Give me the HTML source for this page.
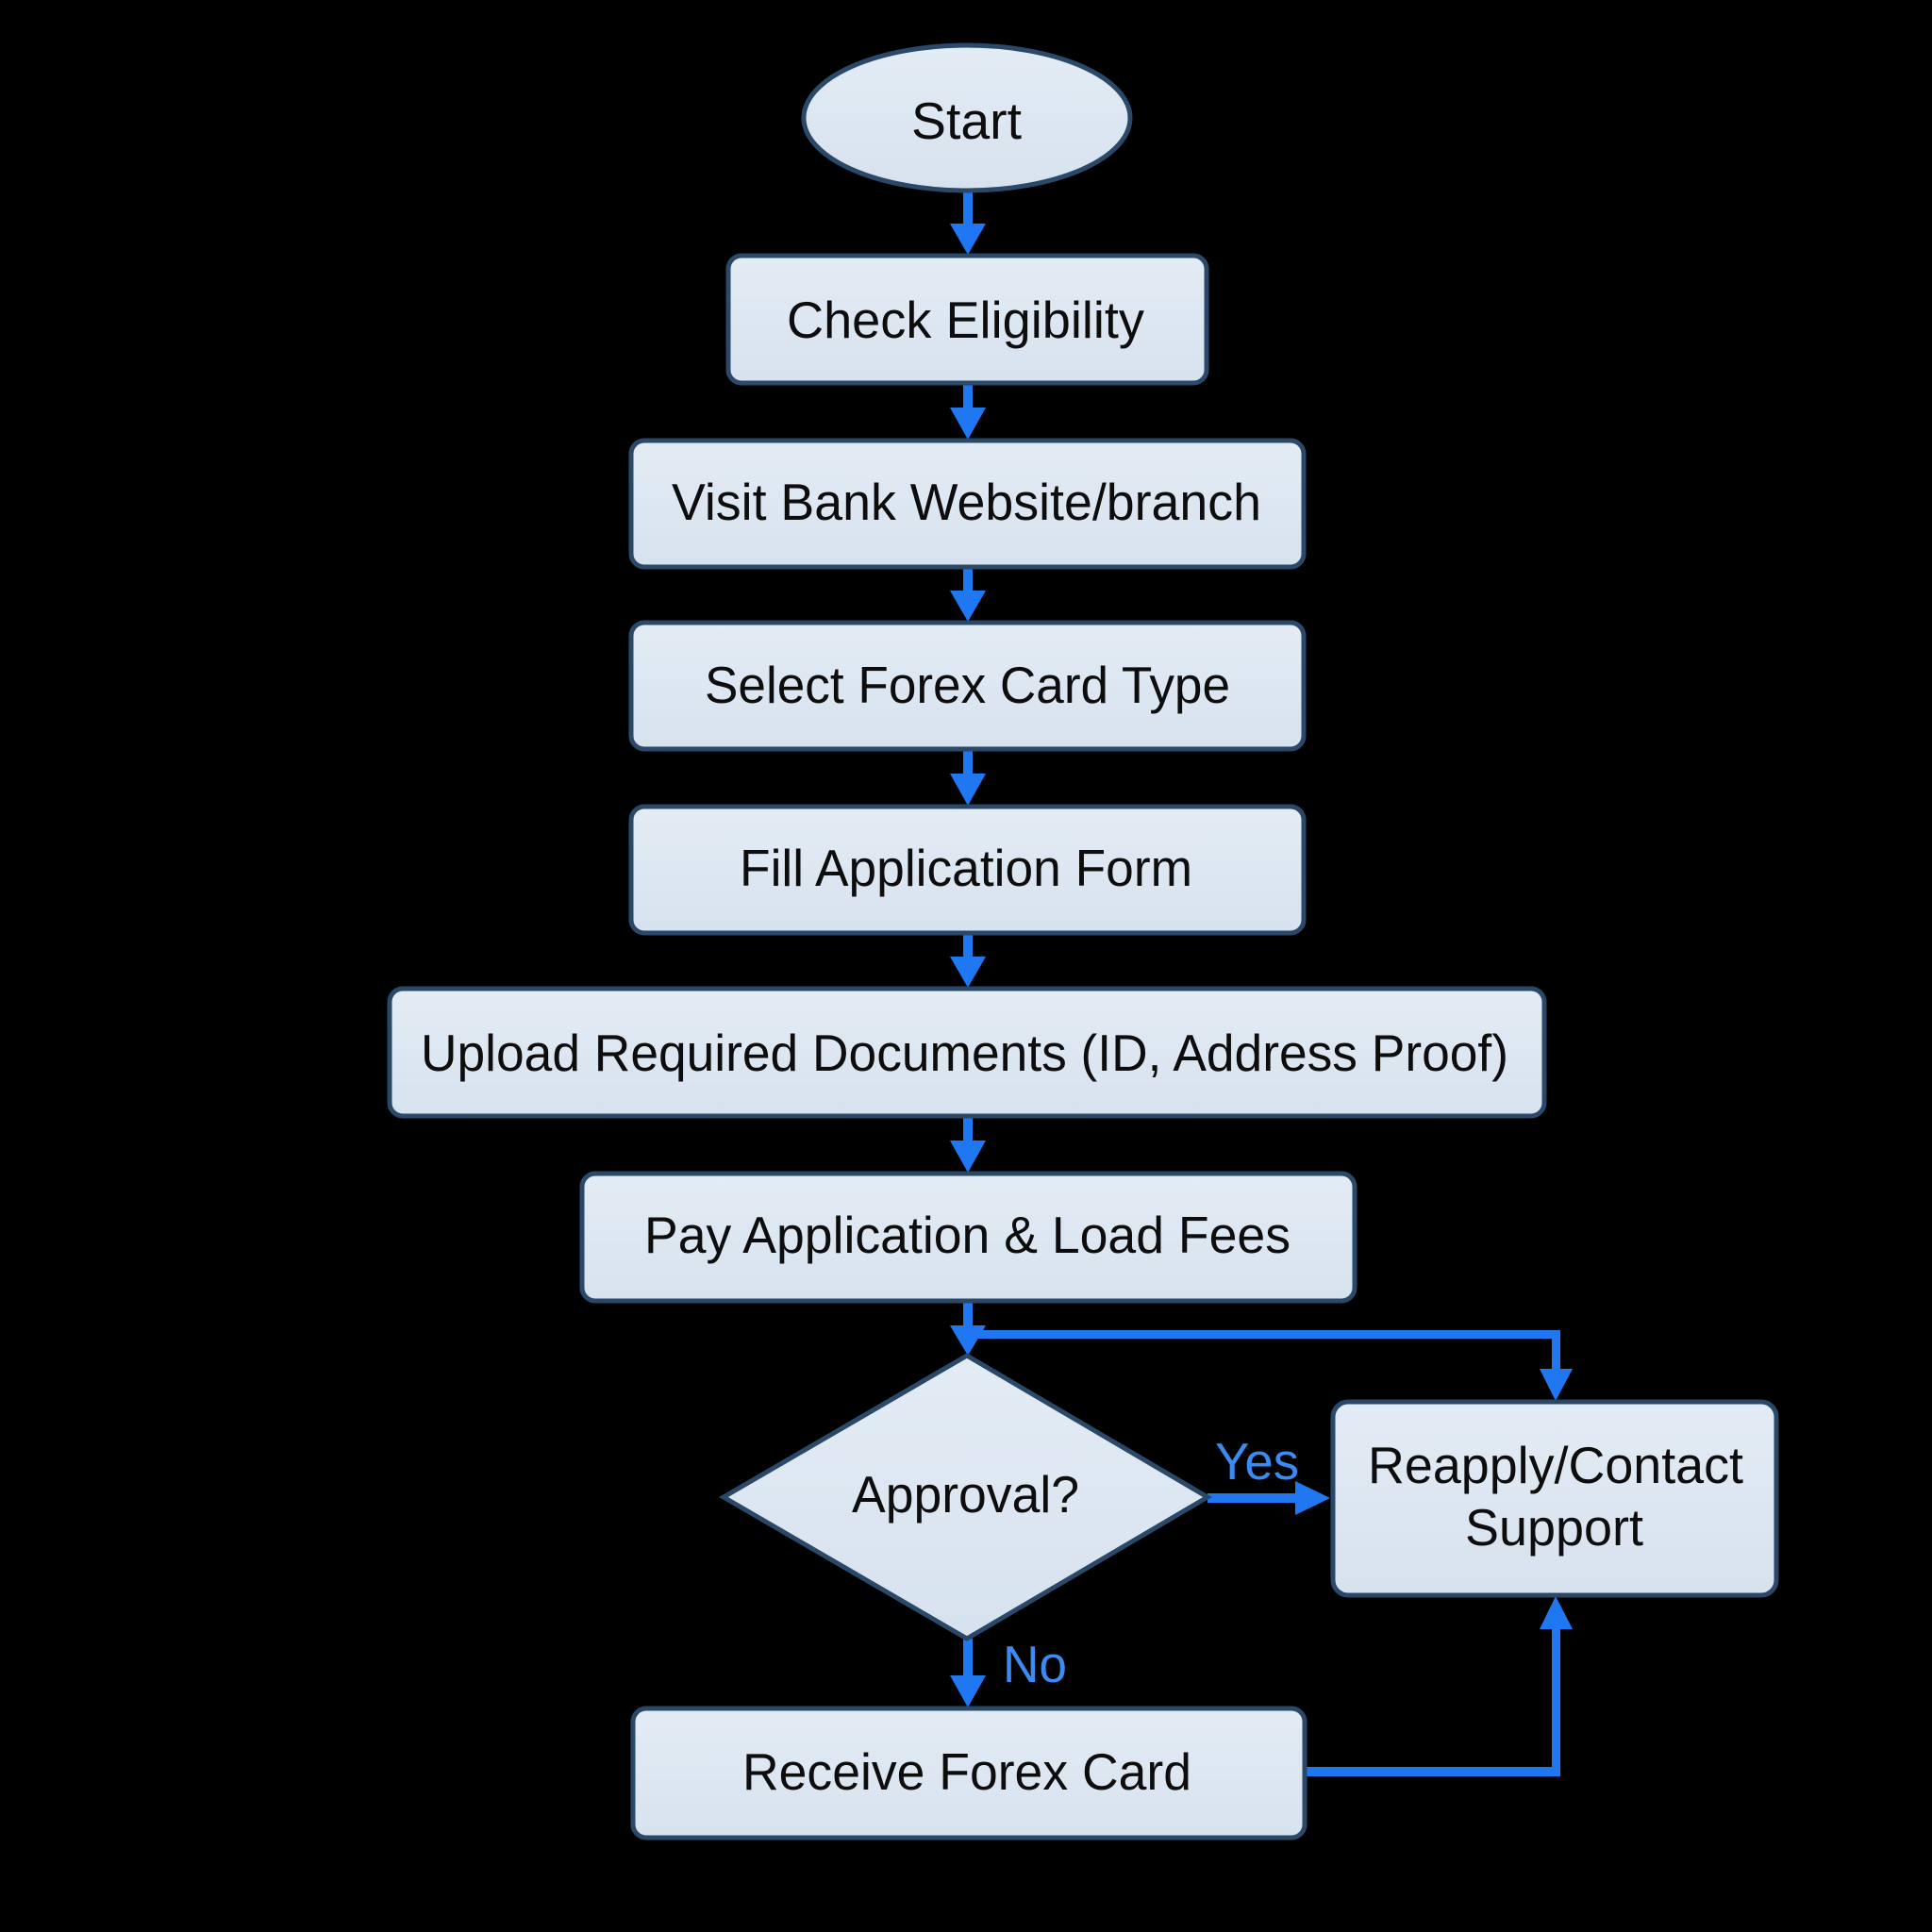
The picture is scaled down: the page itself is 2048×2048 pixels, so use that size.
<!DOCTYPE html>
<html>
<head>
<meta charset="utf-8">
<style>
  html, body { margin: 0; padding: 0; background: #000; }
  body { width: 2048px; height: 2048px; overflow: hidden; }
  svg { display: block; }
  text { font-family: "Liberation Sans", Arial, sans-serif; }
</style>
</head>
<body>
<svg width="2048" height="2048" viewBox="0 0 2048 2048" xmlns="http://www.w3.org/2000/svg">
  <defs>
    <linearGradient id="fillg" x1="0" y1="0" x2="0" y2="1">
      <stop offset="0" stop-color="#e3ecf5"/>
      <stop offset="0.5" stop-color="#dde7f1"/>
      <stop offset="1" stop-color="#d6e2ee"/>
    </linearGradient>
  </defs>
  <rect x="0" y="0" width="2048" height="2048" fill="#000"/>

  <!-- connectors -->
  <g fill="#1f78f2" stroke="none">
    <!-- Start -> Check -->
    <rect x="1021" y="203" width="10" height="40"/>
    <polygon points="1007,237 1045,237 1026,270"/>
    <!-- Check -> Visit -->
    <rect x="1021" y="406" width="10" height="30"/>
    <polygon points="1007,432 1045,432 1026,466"/>
    <!-- Visit -> Select -->
    <rect x="1021" y="601" width="10" height="30"/>
    <polygon points="1007,626 1045,626 1026,659"/>
    <!-- Select -> Fill -->
    <rect x="1021" y="794" width="10" height="30"/>
    <polygon points="1007,820 1045,820 1026,854"/>
    <!-- Fill -> Upload -->
    <rect x="1021" y="989" width="10" height="30"/>
    <polygon points="1007,1014 1045,1014 1026,1047"/>
    <!-- Upload -> Pay -->
    <rect x="1021" y="1183" width="10" height="30"/>
    <polygon points="1007,1209 1045,1209 1026,1243"/>
    <!-- Pay -> Diamond + branch -->
    <rect x="1021" y="1379" width="10" height="30"/>
    <polygon points="1007,1405 1045,1405 1026,1437"/>
    <rect x="1026" y="1410" width="628" height="9"/>
    <rect x="1645" y="1410" width="9" height="45"/>
    <polygon points="1632,1451 1667,1451 1649,1485"/>
    <!-- Yes arrow -->
    <rect x="1280" y="1583" width="96" height="10"/>
    <polygon points="1373,1570 1373,1606 1410,1588"/>
    <!-- No arrow -->
    <rect x="1021" y="1737" width="10" height="42"/>
    <polygon points="1007,1776 1045,1776 1026,1810"/>
    <!-- Receive -> Reapply -->
    <rect x="1384" y="1873" width="270" height="10"/>
    <rect x="1645" y="1722" width="9" height="161"/>
    <polygon points="1632,1727 1667,1727 1649,1692"/>
  </g>

  <!-- nodes -->
  <g fill="url(#fillg)" stroke="#2a4868" stroke-width="5">
    <ellipse cx="1025" cy="125" rx="173" ry="77"/>
    <rect x="772" y="271" width="507" height="135" rx="14"/>
    <rect x="669" y="467" width="713" height="134" rx="14"/>
    <rect x="669" y="660" width="713" height="134" rx="14"/>
    <rect x="669" y="855" width="713" height="134" rx="14"/>
    <rect x="413" y="1048" width="1224" height="135" rx="14"/>
    <rect x="617" y="1244" width="819" height="135" rx="14"/>
    <polygon points="1025,1437 1280,1587 1025,1737 767,1587"/>
    <rect x="1413" y="1486" width="470" height="205" rx="16"/>
    <rect x="671" y="1811" width="712" height="137" rx="14"/>
  </g>

  <!-- labels -->
  <g fill="#0d0d0d" font-size="55" text-anchor="middle">
    <text x="1024.5" y="147" textLength="117" lengthAdjust="spacingAndGlyphs">Start</text>
    <text x="1023.5" y="358" textLength="379" lengthAdjust="spacingAndGlyphs">Check Eligibility</text>
    <text x="1024.5" y="551" textLength="625" lengthAdjust="spacingAndGlyphs">Visit Bank Website/branch</text>
    <text x="1025.5" y="745" textLength="557" lengthAdjust="spacingAndGlyphs">Select Forex Card Type</text>
    <text x="1024" y="939" textLength="480" lengthAdjust="spacingAndGlyphs">Fill Application Form</text>
    <text x="1022.5" y="1135" textLength="1153" lengthAdjust="spacingAndGlyphs">Upload Required Documents (ID, Address Proof)</text>
    <text x="1025.5" y="1328" textLength="685" lengthAdjust="spacingAndGlyphs">Pay Application &amp; Load Fees</text>
    <text x="1023.5" y="1603" textLength="241" lengthAdjust="spacingAndGlyphs">Approval?</text>
    <text x="1649" y="1572" textLength="398" lengthAdjust="spacingAndGlyphs">Reapply/Contact</text>
    <text x="1647.5" y="1638" textLength="189" lengthAdjust="spacingAndGlyphs">Support</text>
    <text x="1025" y="1897" textLength="476" lengthAdjust="spacingAndGlyphs">Receive Forex Card</text>
  </g>
  <g fill="#3a8cf2" font-size="55" text-anchor="middle">
    <text x="1332.5" y="1568" textLength="89" lengthAdjust="spacingAndGlyphs">Yes</text>
    <text x="1097" y="1783" textLength="68" lengthAdjust="spacingAndGlyphs">No</text>
  </g>
</svg>
</body>
</html>
